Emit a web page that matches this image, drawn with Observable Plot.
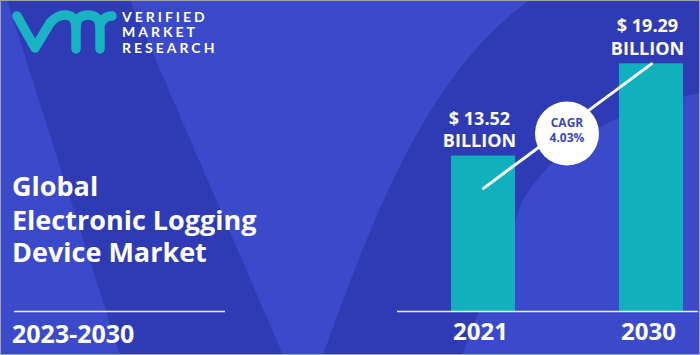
<!DOCTYPE html>
<html><head><meta charset="utf-8">
<script src="https://cdn.jsdelivr.net/npm/d3@7"></script>
<script src="https://cdn.jsdelivr.net/npm/@observablehq/plot@0.6"></script>
<style>
body{margin:0;background:#fff;}
#card{position:relative;width:700px;height:355px;overflow:hidden;background:#3b4acb;font-family:"Open Sans",sans-serif;}
#deco,#chart{position:absolute;left:0;top:0;}
</style></head>
<body>
<div id="card">
<svg id="deco" width="700" height="355" viewBox="0 0 700 355">
  <path d="M7,0 L130,0 L283,355 L120,355 Z" fill="#2e3bb4"/>
  <path d="M323,355 C375,210 430,70 530,0 L700,0 L700,93 C620,108 560,140 523,200 L462,355 Z" fill="#2e3bb4"/>
  <g fill="none" stroke="#19b3c3" stroke-width="9.5" stroke-linecap="round" stroke-linejoin="round">
    <path d="M17,16 L35,48 L50,23 Q57,15 65,15 Q76,15 76,28 L76,49"/>
    <path d="M76,28 Q76,15 88,15 Q100,15 100,28 L100,49"/>
    <path d="M100,24 Q105,15 112,16"/>
  </g>
  <g fill="#fff" font-family="Lato, sans-serif" font-weight="700" font-size="14" letter-spacing="3">
    <text x="122" y="22">VERIFIED</text>
    <text x="122" y="37">MARKET</text>
    <text x="122" y="53">RESEARCH</text>
  </g>
  <g fill="#fff" font-family="Open Sans, sans-serif" font-weight="700">
    <text x="12" y="196" font-size="27">Global</text>
    <text x="12" y="230" font-size="27">Electronic Logging</text>
    <text x="12" y="262" font-size="27">Device Market</text>
    <text x="12" y="343" font-size="25">2023-2030</text>
  </g>
  <line x1="14" x2="225" y1="311.5" y2="311.5" stroke="#fff" stroke-width="1.5" stroke-opacity="0.9"/>
</svg>
<div id="chart"></div>
<svg style="position:absolute;left:0;top:0;pointer-events:none" width="700" height="355"><rect x="0.5" y="0.5" width="699" height="354" fill="none" stroke="#a3a3a3"/></svg>
</div>
<script>
const years = ["2021", "2030"];
const values = [13.52, 19.29];
const unit = "BILLION";
const cagrLabel = "CAGR";
const cagrValue = "4.03%";
const trendStart = 11.5;   // value where the CAGR arrow starts, above the 2021 bar
const badgeLevel = 14.9;   // vertical level of the CAGR badge
const yMin = 3.8, yMax = 22;

const data = years.map((year, i) => ({year, value: values[i]}));
const trend = [{x1: years[0], y1: trendStart, x2: years[1], y2: values[1]}];

const teal = "#10b0bd";
const blueText = "#3b47c6";

const chart = Plot.plot({
  width: 700,
  height: 355,
  marginLeft: 397,
  marginRight: 2,
  marginTop: 20,
  marginBottom: 44,
  style: {background: "transparent", fontFamily: "Open Sans, sans-serif", overflow: "visible"},
  x: {domain: years, paddingInner: 0.6213, paddingOuter: 0.2012, align: 0.779, axis: null},
  y: {domain: [yMin, yMax], axis: null},
  marks: [
    Plot.barY(data, {x: "year", y1: () => yMin, y2: "value", fill: teal}),
    Plot.ruleY([yMin], {stroke: "#fff", strokeWidth: 1.5, strokeOpacity: 0.9}),
    Plot.text(data, {x: "year", y: "value", text: d => "$ " + d.value.toFixed(2) + "\n" + unit,
      lineAnchor: "bottom", lineHeight: 1.25, dy: -9, dx: -4, fill: "#fff", fontSize: 18, fontWeight: 700}),
    Plot.text(data, {x: "year", y: () => yMin, text: "year", lineAnchor: "bottom", dy: 28, dx: -3,
      fill: "#fff", fontSize: 24, fontWeight: 700}),
    Plot.link(trend, {x1: "x1", y1: "y1", x2: "x2", y2: "y2", stroke: "#fff", strokeWidth: 3, strokeLinecap: "round"})
  ]
});

// CAGR badge placed with the chart's own scales, midway between the two bars
const xs = chart.scale("x"), ys = chart.scale("y");
const cx = (xs.apply(years[0]) + xs.apply(years[1])) / 2 + (xs.bandwidth || 0) / 2;
const cy = ys.apply(badgeLevel);
const g = d3.select(chart).append("g");
g.append("circle").attr("cx", cx).attr("cy", cy).attr("r", 32).attr("fill", "#fff");
const tg = g.append("g").attr("fill", blueText).attr("font-family", "Open Sans, sans-serif")
  .attr("font-weight", 700).attr("font-size", 12).attr("text-anchor", "middle");
tg.append("text").attr("x", cx).attr("y", cy - 7).text(cagrLabel);
tg.append("text").attr("x", cx).attr("y", cy + 8).text(cagrValue);

document.getElementById("chart").appendChild(chart);
</script>
</body></html>
